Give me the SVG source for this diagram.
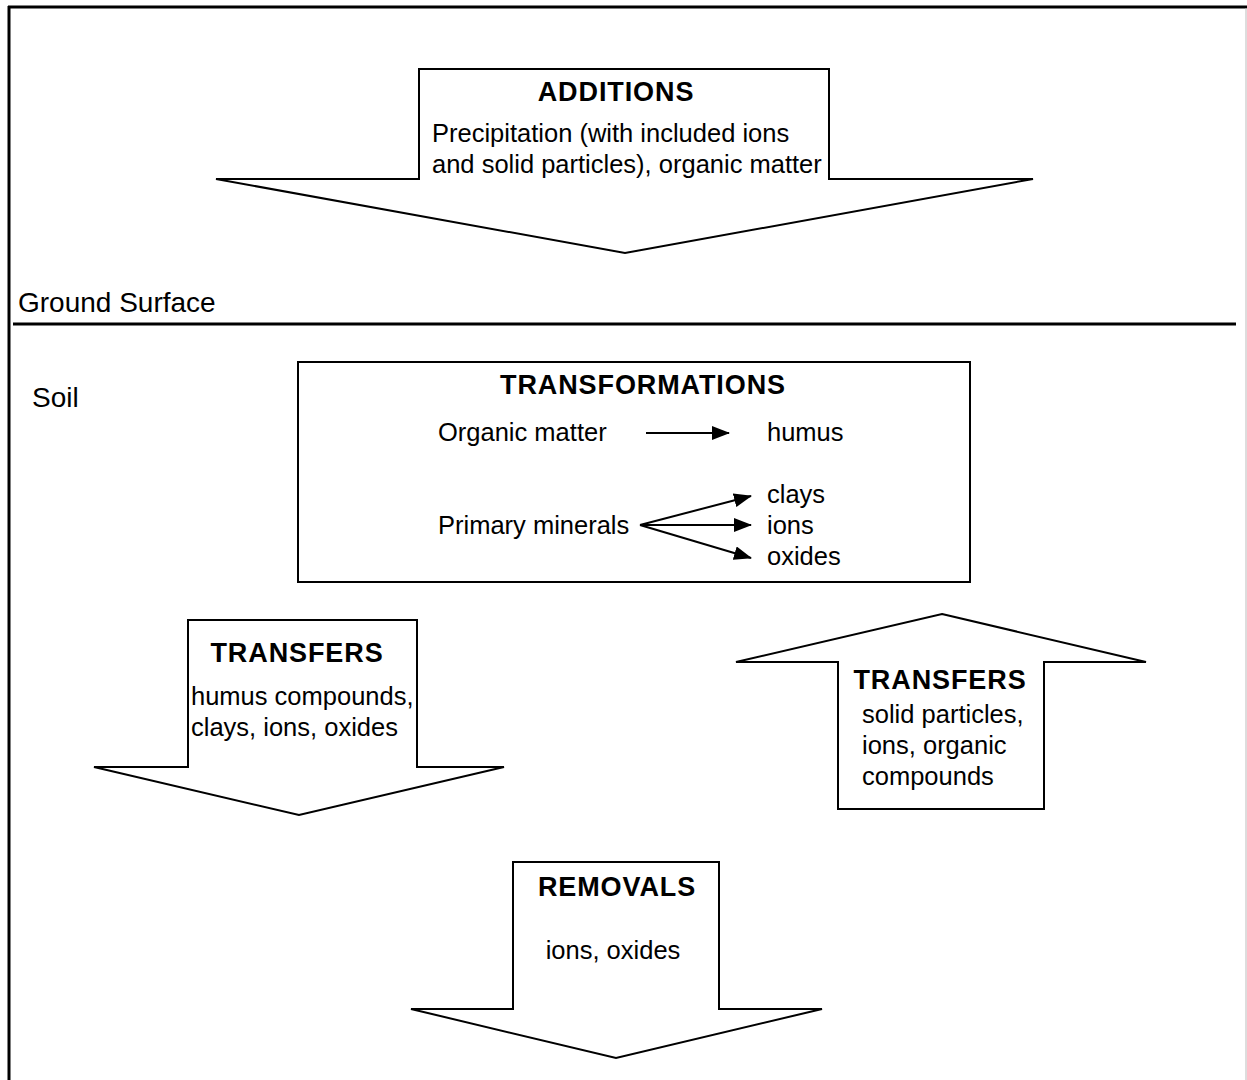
<svg xmlns="http://www.w3.org/2000/svg" width="1247" height="1080" viewBox="0 0 1247 1080">
<defs>
<style>
.shape{fill:#fff;stroke:#000;stroke-width:2;stroke-linejoin:miter}
.t{font-family:"Liberation Sans",Arial,sans-serif;font-size:25.5px;fill:#000}
.h{font-family:"Liberation Sans",Arial,sans-serif;font-size:27px;font-weight:bold;fill:#000;letter-spacing:0.9px}
.g{font-family:"Liberation Sans",Arial,sans-serif;font-size:28px;fill:#000}
.conn{stroke:#000;stroke-width:2;fill:none}
</style>
<marker id="ah" viewBox="0 0 18 14" refX="17" refY="7" markerWidth="18" markerHeight="14" markerUnits="userSpaceOnUse" orient="auto">
<path d="M0,0 L18,7 L0,14 z" fill="#000"/>
</marker>
</defs>
<rect width="1247" height="1080" fill="#fff"/>
<g id="frame">
<line x1="8" y1="7" x2="1247" y2="7" stroke="#000" stroke-width="3"/>
<line x1="9" y1="6" x2="9" y2="1080" stroke="#000" stroke-width="3"/>
<line x1="1246" y1="8" x2="1246" y2="1080" stroke="#bbb" stroke-width="1"/>
</g>
<g id="ground">
<line x1="13" y1="324" x2="1236" y2="324" stroke="#000" stroke-width="3"/>
<text class="g" x="18" y="312">Ground Surface</text>
<text class="g" x="32" y="407">Soil</text>
</g>
<g id="additions">
<polygon class="shape" points="419,69 829,69 829,179 1033,179 625,253 216,179 419,179"/>
<text class="h" x="616" y="101" text-anchor="middle">ADDITIONS</text>
<text class="t" x="432" y="142">Precipitation (with included ions</text>
<text class="t" x="432" y="173">and solid particles), organic matter</text>
</g>
<g id="transformations">
<rect class="shape" x="298" y="362" width="672" height="220"/>
<text class="h" x="643" y="394" text-anchor="middle">TRANSFORMATIONS</text>
<text class="t" x="438" y="441">Organic matter</text>
<text class="t" x="767" y="441">humus</text>
<text class="t" x="438" y="534">Primary minerals</text>
<text class="t" x="767" y="503">clays</text>
<text class="t" x="767" y="534">ions</text>
<text class="t" x="767" y="565">oxides</text>
</g>
<g id="transfers-down">
<polygon class="shape" points="188,620 417,620 417,767 504,767 299,815 94,767 188,767"/>
<text class="h" x="297" y="662" text-anchor="middle">TRANSFERS</text>
<text class="t" x="191" y="705">humus compounds,</text>
<text class="t" x="191" y="736">clays, ions, oxides</text>
</g>
<g id="transfers-up">
<polygon class="shape" points="942,614 1146,662 1044,662 1044,809 838,809 838,662 736,662"/>
<text class="h" x="940" y="689" text-anchor="middle">TRANSFERS</text>
<text class="t" x="862" y="723">solid particles,</text>
<text class="t" x="862" y="754">ions, organic</text>
<text class="t" x="862" y="785">compounds</text>
</g>
<g id="removals">
<polygon class="shape" points="513,862 719,862 719,1009 822,1009 616,1058 411,1009 513,1009"/>
<text class="h" x="617" y="896" text-anchor="middle">REMOVALS</text>
<text class="t" x="613" y="959" text-anchor="middle">ions, oxides</text>
</g>
<g id="connectors">
<line class="conn" x1="646" y1="433" x2="729" y2="433" marker-end="url(#ah)"/>
<line class="conn" x1="640" y1="525" x2="751" y2="496" marker-end="url(#ah)"/>
<line class="conn" x1="640" y1="525" x2="751" y2="525" marker-end="url(#ah)"/>
<line class="conn" x1="640" y1="525" x2="751" y2="558" marker-end="url(#ah)"/>
</g>
</svg>
